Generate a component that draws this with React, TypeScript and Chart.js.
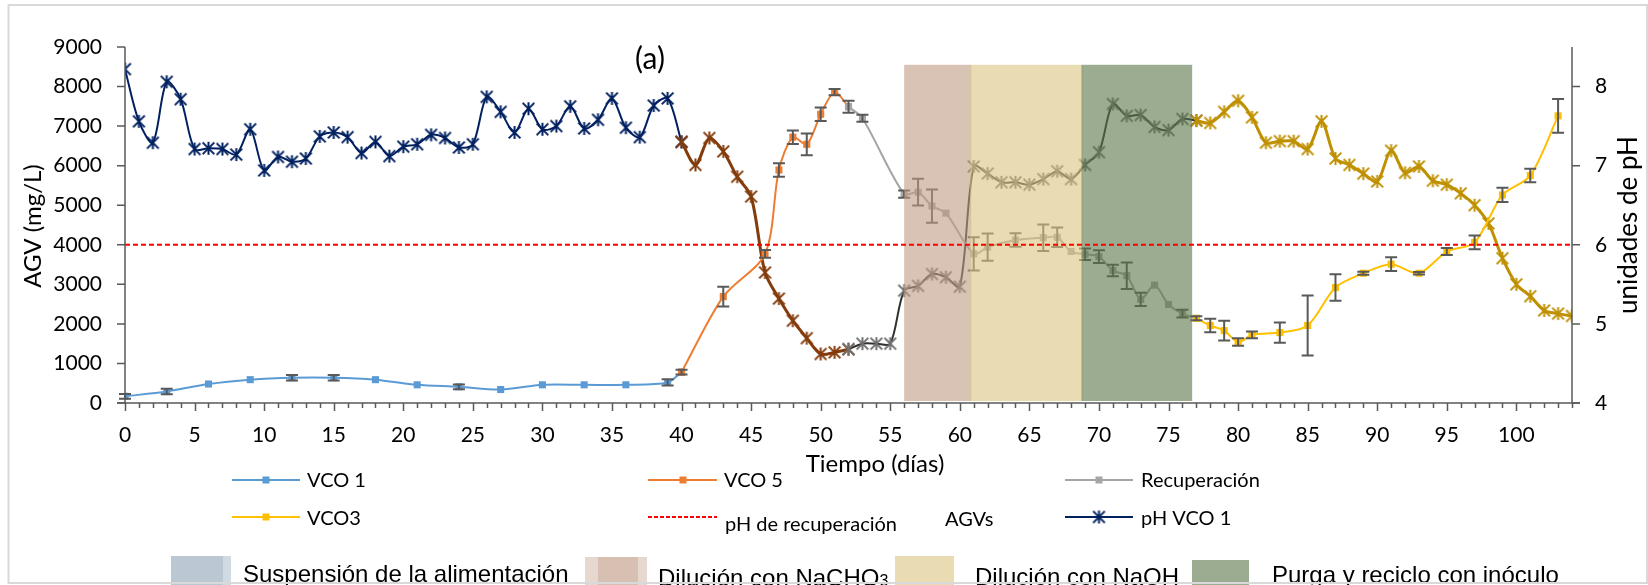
import React, { useEffect, useRef } from "react";
import { Chart, registerables } from "chart.js";
Chart.register(...registerables);

const W = 1648;
const H = 585;

// ---- AGV series (mg/L) ----
const vco1Days = [0, 3, 6, 9, 12, 15, 18, 21, 24, 27, 30, 33, 36, 39, 40];
const vco1Values = [170, 290, 480, 590, 640, 640, 590, 460, 410, 340, 460, 460, 460, 520, 780];
const vco1Errors = [60, 70, 0, 0, 70, 70, 0, 0, 60, 0, 0, 0, 0, 80, 0];

const vco5Days = [40, 43, 46, 47, 48, 49, 50, 51, 52];
const vco5Values = [780, 2690, 3770, 5890, 6720, 6540, 7300, 7860, 7490];
const vco5Errors = [60, 250, 100, 170, 170, 275, 170, 80, 0];

const recDays = [52, 53, 56, 57, 58, 59, 61, 62, 64, 66, 67, 68, 69, 70, 71, 72, 73, 74, 75, 76, 77];
const recValues = [7490, 7200, 5280, 5330, 4980, 4800, 3770, 3940, 4120, 4180, 4190, 3830, 3760, 3700, 3350, 3220, 2620, 2980, 2490, 2260, 2140];
const recErrors = [150, 90, 90, 340, 420, 0, 420, 345, 170, 335, 245, 0, 145, 160, 145, 335, 170, 0, 0, 100, 0];

const vco3Days = [77, 78, 79, 80, 81, 83, 85, 87, 89, 91, 93, 95, 97, 99, 101, 103];
const vco3Values = [2140, 1960, 1830, 1540, 1720, 1780, 1960, 2920, 3280, 3510, 3280, 3830, 4060, 5260, 5750, 7260];
const vco3Errors = [50, 170, 250, 95, 85, 255, 760, 335, 40, 175, 30, 90, 175, 180, 170, 425];

// ---- pH series ----
const phVco1Days = [0, 1, 2, 3, 4, 5, 6, 7, 8, 9, 10, 11, 12, 13, 14, 15, 16, 17, 18, 19, 20, 21, 22, 23, 24, 25, 26, 27, 28, 29, 30, 31, 32, 33, 34, 35, 36, 37, 38, 39, 40];
const phVco1Values = [8.22, 7.56, 7.29, 8.06, 7.84, 7.21, 7.22, 7.21, 7.14, 7.46, 6.94, 7.11, 7.05, 7.09, 7.37, 7.42, 7.36, 7.16, 7.30, 7.12, 7.24, 7.27, 7.39, 7.35, 7.23, 7.27, 7.87, 7.68, 7.42, 7.72, 7.46, 7.50, 7.75, 7.47, 7.58, 7.85, 7.48, 7.36, 7.76, 7.85, 7.30];

const phVco5Days = [40, 41, 42, 43, 44, 45, 46, 47, 48, 49, 50, 51, 52];
const phVco5Values = [7.30, 7.01, 7.35, 7.18, 6.86, 6.61, 5.65, 5.32, 5.04, 4.82, 4.62, 4.64, 4.68];

const phRecDays = [52, 53, 54, 55, 56, 57, 58, 59, 60, 61, 62, 63, 64, 65, 66, 67, 68, 69, 70, 71, 72, 73, 74, 75, 76, 77];
const phRecValues = [4.68, 4.75, 4.75, 4.75, 5.42, 5.48, 5.63, 5.59, 5.47, 6.99, 6.90, 6.79, 6.79, 6.76, 6.83, 6.93, 6.83, 7.01, 7.17, 7.78, 7.63, 7.64, 7.49, 7.45, 7.59, 7.57];

const phVco3Days = [77, 78, 79, 80, 81, 82, 83, 84, 85, 86, 87, 88, 89, 90, 91, 92, 93, 94, 95, 96, 97, 98, 99, 100, 101, 102, 103, 104];
const phVco3Values = [7.57, 7.54, 7.68, 7.82, 7.61, 7.29, 7.31, 7.31, 7.21, 7.56, 7.09, 7.01, 6.90, 6.80, 7.19, 6.91, 6.99, 6.81, 6.76, 6.65, 6.50, 6.27, 5.83, 5.50, 5.35, 5.17, 5.13, 5.10];

const recoveryPh = 6;

// ---- phases (shaded) ----
const phaseStart = [56, 60.75, 68.75];
const phaseEnd = [60.75, 68.75, 76.7];
const phaseTop = 8550;
const phaseColors = ["rgba(192,155,132,0.6)", "rgba(218,197,128,0.6)", "rgba(88,117,70,0.6)"];

// ---- ticks ----
const xTicks = [0, 5, 10, 15, 20, 25, 30, 35, 40, 45, 50, 55, 60, 65, 70, 75, 80, 85, 90, 95, 100];
const yTicks = [0, 1000, 2000, 3000, 4000, 5000, 6000, 7000, 8000, 9000];
const y1Ticks = [4, 5, 6, 7, 8];

const CAL = "Lato, 'Open Sans', sans-serif";
const ARIAL = "'Liberation Sans', Arial, sans-serif";

function pts(xs: number[], ys: number[]) {
  return xs.map((x, i) => ({ x, y: ys[i] }));
}

function makeStar(color: string, size: number, lw: number) {
  const c = document.createElement("canvas");
  const s = Math.ceil(size * 2 + lw * 2);
  c.width = s;
  c.height = s;
  const ctx = c.getContext("2d")!;
  const m = s / 2;
  ctx.strokeStyle = color;
  ctx.lineWidth = lw;
  const d = size * 0.9;
  ctx.beginPath();
  ctx.moveTo(m - d, m - d);
  ctx.lineTo(m + d, m + d);
  ctx.moveTo(m + d, m - d);
  ctx.lineTo(m - d, m + d);
  ctx.moveTo(m, m - size);
  ctx.lineTo(m, m + size);
  ctx.stroke();
  return c;
}

const C_VCO1 = "#5B9BD5";
const C_VCO5 = "#ED7D31";
const C_REC = "#A5A5A5";
const C_VCO3 = "#FFC000";
const C_NAVY = "#002060";
const C_BROWN = "#843C0C";
const C_GRAYLINE = "#303030";
const C_GRAYSTAR = "#707070";
const C_GOLD = "#BF9000";

export default function App() {
  const ref = useRef<HTMLCanvasElement | null>(null);

  useEffect(() => {
    const canvas = ref.current!;
    const starNavy = makeStar(C_NAVY, 6.5, 2);
    const starBrown = makeStar(C_BROWN, 6.5, 2);
    const starGray = makeStar(C_GRAYSTAR, 6.5, 2);
    const starGold = makeStar(C_GOLD, 6.5, 2);

    const agv = (label: string, xs: number[], ys: number[], errs: number[], color: string) => ({
      label,
      data: pts(xs, ys),
      errs,
      yAxisID: "y",
      borderColor: color,
      backgroundColor: color,
      borderWidth: 2,
      pointStyle: "rect",
      pointRadius: 5,
      pointBorderWidth: 0,
      pointBackgroundColor: color,
      tension: 0.3,
    });
    const ph = (label: string, xs: number[], ys: number[], line: string, star: HTMLCanvasElement, w: number) => ({
      label,
      data: pts(xs, ys),
      yAxisID: "y1",
      borderColor: line,
      backgroundColor: line,
      borderWidth: w,
      pointStyle: star,
      pointRadius: 6,
      tension: 0.3,
    });

    const plugin = {
      id: "custom",
      beforeDraw(chart: any) {
        const ctx = chart.ctx;
        ctx.save();
        ctx.fillStyle = "#fff";
        ctx.fillRect(0, 0, W, H);
        ctx.restore();
      },
      afterDatasetsDraw(chart: any) {
        const ctx = chart.ctx;
        const xs = chart.scales.x;
        const ys = chart.scales.y;
        const y1 = chart.scales.y1;
        // error bars
        ctx.save();
        ctx.strokeStyle = "#595959";
        ctx.lineWidth = 2;
        chart.data.datasets.forEach((ds: any) => {
          if (!ds.errs) return;
          ds.data.forEach((p: any, j: number) => {
            const e = ds.errs[j];
            if (!e) return;
            const px = xs.getPixelForValue(p.x);
            const t = ys.getPixelForValue(p.y + e);
            const b = ys.getPixelForValue(p.y - e);
            ctx.beginPath();
            ctx.moveTo(px, t);
            ctx.lineTo(px, b);
            ctx.moveTo(px - 6, t);
            ctx.lineTo(px + 6, t);
            ctx.moveTo(px - 6, b);
            ctx.lineTo(px + 6, b);
            ctx.stroke();
          });
        });
        ctx.restore();
        // shaded phases
        ctx.save();
        phaseStart.forEach((s, i) => {
          const x1 = xs.getPixelForValue(s);
          const x2 = xs.getPixelForValue(phaseEnd[i]);
          const top = ys.getPixelForValue(phaseTop);
          const bot = ys.getPixelForValue(0);
          ctx.fillStyle = phaseColors[i];
          ctx.fillRect(x1, top, x2 - x1 + (i < 2 ? 1 : 0), bot - top - 2);
        });
        ctx.restore();
        // recovery pH line
        ctx.save();
        ctx.strokeStyle = "#FF0000";
        ctx.lineWidth = 2;
        ctx.setLineDash([5, 3]);
        const ry = y1.getPixelForValue(recoveryPh);
        ctx.beginPath();
        ctx.moveTo(chart.chartArea.left, ry);
        ctx.lineTo(chart.chartArea.right, ry);
        ctx.stroke();
        ctx.restore();
      },
      afterDraw(chart: any) {
        const ctx = chart.ctx;
        const xs = chart.scales.x;
        const ys = chart.scales.y;
        const y1 = chart.scales.y1;
        const { left, right, top, bottom } = chart.chartArea;
        ctx.save();
        // axes
        ctx.strokeStyle = "#595959";
        ctx.lineWidth = 1.5;
        ctx.beginPath();
        ctx.moveTo(left, top);
        ctx.lineTo(left, bottom);
        ctx.moveTo(left - 8, bottom);
        ctx.lineTo(right + 8, bottom);
        ctx.moveTo(right, top);
        ctx.lineTo(right, bottom);
        ctx.stroke();
        ctx.lineWidth = 1.5;
        ctx.beginPath();
        for (let d = 0; d <= 104; d++) {
          const px = Math.round(xs.getPixelForValue(d)) + 0.5;
          const len = d % 5 === 0 ? 8 : 5;
          ctx.moveTo(px, bottom);
          ctx.lineTo(px, bottom + len);
        }
        yTicks.forEach((v) => {
          const py = ys.getPixelForValue(v);
          ctx.moveTo(left - 8, py);
          ctx.lineTo(left, py);
        });
        y1Ticks.forEach((v) => {
          const py = y1.getPixelForValue(v);
          ctx.moveTo(right, py);
          ctx.lineTo(right + 8, py);
        });
        ctx.stroke();

        // titles
        ctx.fillStyle = "#000";
        ctx.textAlign = "center";
        ctx.textBaseline = "middle";
        ctx.font = `30px ${CAL}`;
        ctx.fillText("(a)", 650, 59);
        ctx.textBaseline = "alphabetic";
        ctx.font = `24px ${CAL}`;
        ctx.fillText("Tiempo (días)", 875, 472);
        ctx.save();
        ctx.translate(33, 226);
        ctx.rotate(-Math.PI / 2);
        ctx.textBaseline = "middle";
        ctx.font = `24px ${CAL}`;
        ctx.fillText("AGV (mg/L)", 0, 0);
        ctx.restore();
        ctx.save();
        ctx.translate(1629, 225);
        ctx.rotate(-Math.PI / 2);
        ctx.textBaseline = "middle";
        ctx.font = `26px ${CAL}`;
        ctx.fillText("unidades de pH", 0, 0);
        ctx.restore();

        // legend rows 1-2
        const line = (x1: number, x2: number, y: number, color: string, dash?: number[]) => {
          ctx.save();
          ctx.strokeStyle = color;
          ctx.lineWidth = 2;
          if (dash) ctx.setLineDash(dash);
          ctx.beginPath();
          ctx.moveTo(x1, y);
          ctx.lineTo(x2, y);
          ctx.stroke();
          ctx.restore();
        };
        const sq = (x: number, y: number, color: string) => {
          ctx.fillStyle = color;
          ctx.fillRect(x - 3.5, y - 3.5, 7, 7);
        };
        const txt = (s: string, x: number, y: number, font: string) => {
          ctx.fillStyle = "#000";
          ctx.textAlign = "left";
          ctx.textBaseline = "alphabetic";
          ctx.font = font;
          ctx.fillText(s, x, y);
        };
        const LF = `20px ${CAL}`;
        line(232, 300, 480, C_VCO1);
        sq(266, 480, C_VCO1);
        txt("VCO 1", 307, 487, LF);
        line(648, 717, 480, C_VCO5);
        sq(683, 480, C_VCO5);
        txt("VCO 5", 724, 487, LF);
        line(1065, 1133, 480, C_REC);
        sq(1099, 480, C_REC);
        txt("Recuperación", 1141, 487, LF);
        line(232, 300, 517, C_VCO3);
        sq(266, 517, C_VCO3);
        txt("VCO3", 307, 525, LF);
        line(648, 717, 517, "#FF0000", [4, 2]);
        txt("pH de recuperación", 725, 531, LF);
        txt("AGVs", 945, 526, LF);
        line(1065, 1133, 517, C_NAVY);
        ctx.drawImage(starNavy, 1099 - starNavy.width / 2, 517 - starNavy.height / 2);
        txt("pH VCO 1", 1141, 525, LF);

        // legend row 3 (phases)
        ctx.fillStyle = "rgb(208,218,227)";
        ctx.fillRect(171, 556, 60, 30);
        ctx.fillStyle = "rgb(187,200,212)";
        ctx.fillRect(171, 556, 52, 30);
        ctx.fillStyle = "rgb(230,216,207)";
        ctx.fillRect(585, 557, 62, 30);
        ctx.fillStyle = "rgb(215,192,178)";
        ctx.fillRect(598, 557, 40, 30);
        ctx.fillStyle = "rgb(233,220,178)";
        ctx.fillRect(895, 556, 59, 30);
        ctx.fillStyle = "rgb(155,172,144)";
        ctx.fillRect(1192, 560, 57, 30);
        const AF = `24px ${ARIAL}`;
        txt("Suspensión de la alimentación", 243, 581.5, AF);
        txt("Dilución con NaCHO", 658, 585.5, AF);
        const w = ctx.measureText("Dilución con NaCHO").width;
        txt("3", 658 + w, 585.5, `16px ${ARIAL}`);
        txt("Dilución con NaOH", 975, 585, AF);
        txt("Purga y reciclo con inóculo", 1272, 582.5, AF);

        // frame
        ctx.strokeStyle = "#D9D9D9";
        ctx.lineWidth = 2;
        ctx.strokeRect(8.5, 5, W - 9.5, H - 7);
        ctx.restore();
      },
    };

    const tickFmt = (v: any) => String(v);

    // later segments listed first so their markers sit on top at the joins
    const chart = new Chart(canvas, {
      type: "line",
      data: {
        datasets: [
          agv("VCO3", vco3Days, vco3Values, vco3Errors, C_VCO3),
          agv("Recuperación", recDays, recValues, recErrors, C_REC),
          agv("VCO 5", vco5Days, vco5Values, vco5Errors, C_VCO5),
          agv("VCO 1", vco1Days, vco1Values, vco1Errors, C_VCO1),
          ph("pH VCO3", phVco3Days, phVco3Values, C_GOLD, starGold, 3),
          ph("pH Recuperación", phRecDays, phRecValues, C_GRAYLINE, starGray, 2),
          ph("pH VCO 5", phVco5Days, phVco5Values, C_BROWN, starBrown, 3),
          ph("pH VCO 1", phVco1Days, phVco1Values, C_NAVY, starNavy, 2),
        ] as any,
      },
      options: {
        animation: false,
        responsive: false,
        devicePixelRatio: 1,
        layout: { padding: { left: 0, right: 0, top: 47, bottom: 0 } },
        plugins: { legend: { display: false }, tooltip: { enabled: false } },
        scales: {
          x: {
            type: "linear",
            min: 0,
            max: 104,
            afterBuildTicks: (s: any) => {
              s.ticks = xTicks.map((v) => ({ value: v }));
            },
            afterFit: (s: any) => {
              s.height = H - 403;
            },
            grid: { display: false, drawTicks: false },
            border: { display: false },
            ticks: { font: { family: CAL, size: 21 }, color: "#000", padding: 20, maxRotation: 0, autoSkip: false, callback: tickFmt },
          },
          y: {
            type: "linear",
            position: "left",
            min: 0,
            max: 9000,
            afterBuildTicks: (s: any) => {
              s.ticks = yTicks.map((v) => ({ value: v }));
            },
            afterFit: (s: any) => {
              s.width = 125;
            },
            grid: { display: false, drawTicks: false },
            border: { display: false },
            ticks: { font: { family: CAL, size: 21 }, color: "#000", padding: 23, callback: tickFmt },
          },
          y1: {
            type: "linear",
            position: "right",
            min: 4,
            max: 8.5,
            afterBuildTicks: (s: any) => {
              s.ticks = y1Ticks.map((v) => ({ value: v }));
            },
            afterFit: (s: any) => {
              s.width = W - 1572;
            },
            grid: { display: false, drawTicks: false },
            border: { display: false },
            ticks: { font: { family: CAL, size: 21 }, color: "#000", padding: 23, callback: tickFmt },
          },
        },
      } as any,
      plugins: [plugin],
    });
    return () => chart.destroy();
  }, []);

  return (
    <div style={{ position: "absolute", left: 0, top: 0, width: W, height: H }}>
      <canvas ref={ref} width={W} height={H} style={{ width: W, height: H, display: "block" }} />
    </div>
  );
}
